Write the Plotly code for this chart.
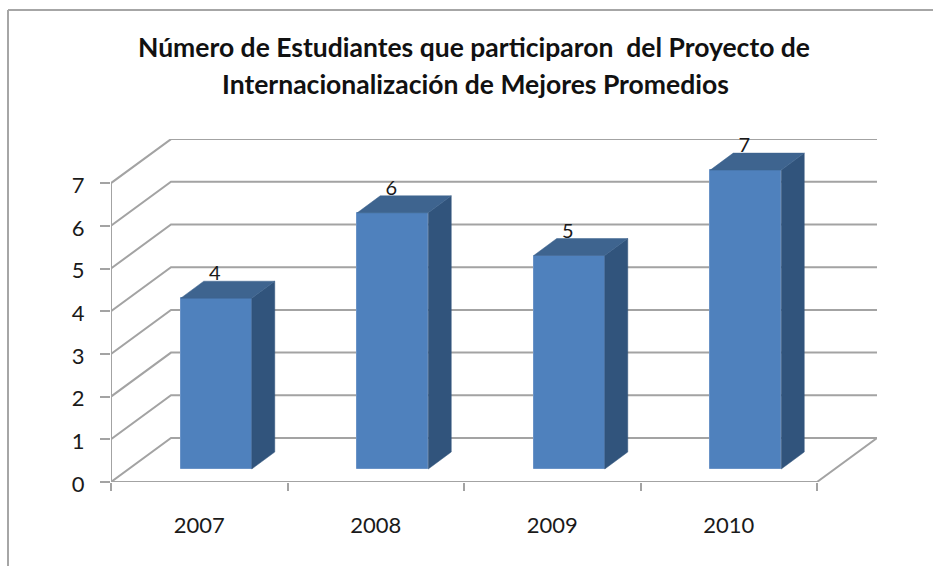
import plotly.graph_objects as go

years = ["2007", "2008", "2009", "2010"]
students = [4, 6, 5, 7]
grid_values = [0, 1, 2, 3, 4, 5, 6, 7]
title_lines = ["Número de Estudiantes que participaron  del Proyecto de",
               "Internacionalización de Mejores Promedios"]

# page geometry (pixels)
W, H = 933, 566
L, R, T, B = 111, 877, 139, 482
PX_PER_CAT = 176.5
PX_PER_UNIT = 42.7
X_MAX = (R - L) / PX_PER_CAT
Y_MAX = (B - T) / PX_PER_UNIT

# oblique projection, in axis units
WALL_DX = 60 / PX_PER_CAT
WALL_DY = 44 / PX_PER_UNIT
BAR_DX = 23 / PX_PER_CAT
BAR_DY = 17 / PX_PER_UNIT
BAR_X0 = 17 / PX_PER_CAT
BAR_Y0 = 13 / PX_PER_UNIT
BAR_W = 71 / PX_PER_CAT
N = len(years)

GRID = "#a3a3a3"
FRONT = "#4f81bd"
SIDE = "#31547c"
TOP = "#3e648f"
TEXT = "#1a1a1a"

fig = go.Figure()

# walls and floor
gx, gy = [], []
for v in grid_values:
    gx += [0, WALL_DX, N + WALL_DX, None]
    gy += [v, v + WALL_DY, v + WALL_DY, None]
gx += [0, N, N + WALL_DX, None, 0, 0]
gy += [0, 0, WALL_DY, None, 0, grid_values[-1]]
fig.add_trace(go.Scatter(x=gx, y=gy, mode="lines", line=dict(color=GRID, width=2),
                         hoverinfo="skip", showlegend=False, cliponaxis=False))

# bars on an overlaid pair of axes, so they sit above the grid
centers = [i + 0.5 + BAR_X0 for i in range(N)]
fig.add_trace(go.Bar(x=centers, y=students, base=[BAR_Y0] * N, width=BAR_W,
                     marker=dict(color=FRONT, line=dict(color="#6a93c7", width=1)),
                     xaxis="x2", yaxis="y2", showlegend=False))

for c, v in zip(centers, students):
    left, right = c - BAR_W / 2, c + BAR_W / 2
    top = BAR_Y0 + v
    fig.add_trace(go.Scatter(
        x=[right, right + BAR_DX, right + BAR_DX, right, right],
        y=[BAR_Y0, BAR_Y0 + BAR_DY, top + BAR_DY, top, BAR_Y0],
        mode="lines", fill="toself", fillcolor=SIDE, line=dict(color=SIDE, width=0.5),
        xaxis="x2", yaxis="y2", hoverinfo="skip", showlegend=False))
    fig.add_trace(go.Scatter(
        x=[left, left + BAR_DX, right + BAR_DX, right, left],
        y=[top, top + BAR_DY, top + BAR_DY, top, top],
        mode="lines", fill="toself", fillcolor=TOP, line=dict(color=TOP, width=0.5),
        xaxis="x2", yaxis="y2", hoverinfo="skip", showlegend=False))

# data labels
fig.add_trace(go.Scatter(
    x=[c - 1.5 / PX_PER_CAT for c in centers],
    y=[BAR_Y0 + v + 23 / PX_PER_UNIT for v in students],
    mode="text", text=[str(v) for v in students], textposition="middle center",
    textfont=dict(family="Lato", size=20, color=TEXT),
    xaxis="x2", yaxis="y2", hoverinfo="skip", showlegend=False, cliponaxis=False))

FRAME_X = (8 - L) / (R - L)
FRAME_Y = 1 + (T - 10) / (B - T)

fig.update_layout(
    width=W, height=H, autosize=False,
    margin=dict(l=L, r=W - R, t=T, b=H - B, pad=0),
    paper_bgcolor="white", plot_bgcolor="white",
    showlegend=False,
    title=dict(text=title_lines[0], x=474 / W, xanchor="center", y=1 - 48 / H, yanchor="middle",
               font=dict(family="Lato", size=26.5, color="#111111", weight="bold")),
    annotations=[dict(text=title_lines[1], xref="paper", yref="paper",
                      x=(475 - L) / (R - L), y=1 + (T - 84) / (B - T),
                      xanchor="center", yanchor="middle", showarrow=False,
                      font=dict(family="Lato", size=26.5, color="#111111", weight="bold"))],
    xaxis=dict(range=[0, X_MAX], showgrid=False, zeroline=False, showline=False,
               tickmode="array", tickvals=[i + 0.5 for i in range(N)], ticktext=years,
               ticks="", ticklabelstandoff=28,
               tickfont=dict(family="Lato", size=22, color=TEXT),
               minor=dict(tickmode="array", tickvals=list(range(N + 1)), ticks="outside",
                          ticklen=8, tickwidth=1.5, tickcolor=GRID, showgrid=False)),
    yaxis=dict(range=[0, Y_MAX], showgrid=False, zeroline=False, showline=False,
               tickmode="array", tickvals=grid_values, ticks="outside", ticklen=10,
               tickwidth=1.5, tickcolor=GRID, ticklabelstandoff=11, ticklabelshift=2,
               tickfont=dict(family="Lato", size=22, color=TEXT)),
    xaxis2=dict(range=[0, X_MAX], overlaying="x", visible=False),
    yaxis2=dict(range=[0, Y_MAX], overlaying="y", visible=False),
    bargap=0,
    shapes=[dict(type="line", xref="paper", yref="paper",
                 x0=FRAME_X, x1=FRAME_X, y0=(B - H) / (B - T), y1=FRAME_Y,
                 line=dict(color="#a6a6a6", width=2)),
            dict(type="line", xref="paper", yref="paper",
                 x0=FRAME_X, x1=(W - L) / (R - L), y0=FRAME_Y, y1=FRAME_Y,
                 line=dict(color="#a6a6a6", width=2))],
)

fig.write_html("out.html", config=dict(displayModeBar=False),
               post_script="document.body.style.margin='0';")
